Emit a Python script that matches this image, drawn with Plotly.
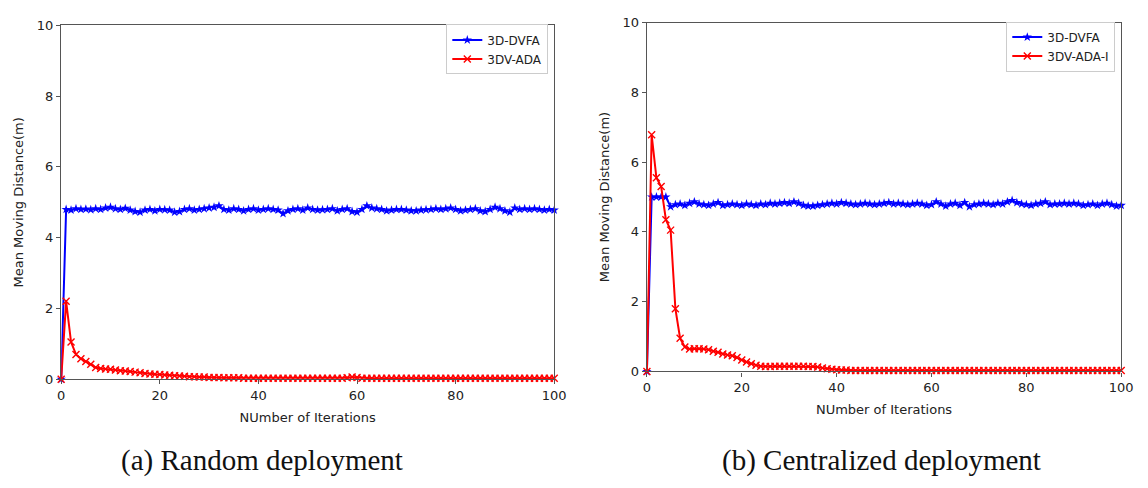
import plotly.graph_objects as go

iterations = list(range(0, 101))

# (a) Random deployment
rand_dvfa = [0.00, 4.80, 4.78, 4.82, 4.80, 4.81, 4.79, 4.82, 4.80, 4.84,
             4.86, 4.82, 4.80, 4.83, 4.78, 4.74, 4.72, 4.78, 4.80, 4.76,
             4.80, 4.79, 4.78, 4.72, 4.74, 4.80, 4.82, 4.78, 4.80, 4.82,
             4.84, 4.86, 4.90, 4.80, 4.78, 4.82, 4.80, 4.76, 4.80, 4.82,
             4.78, 4.80, 4.82, 4.80, 4.78, 4.68, 4.76, 4.80, 4.82, 4.78,
             4.84, 4.80, 4.78, 4.79, 4.80, 4.82, 4.76, 4.80, 4.82, 4.74,
             4.72, 4.80, 4.90, 4.84, 4.82, 4.80, 4.76, 4.78, 4.80, 4.80,
             4.78, 4.76, 4.76, 4.78, 4.79, 4.80, 4.82, 4.80, 4.82, 4.84,
             4.80, 4.76, 4.78, 4.80, 4.82, 4.76, 4.74, 4.80, 4.86, 4.82,
             4.76, 4.72, 4.84, 4.80, 4.82, 4.80, 4.82, 4.80, 4.78, 4.80,
             4.78]
rand_ada = [0.00, 2.20, 1.05, 0.70, 0.58, 0.50, 0.42, 0.33, 0.30, 0.29,
            0.28, 0.26, 0.24, 0.23, 0.22, 0.20, 0.18, 0.16, 0.15, 0.14,
            0.13, 0.12, 0.11, 0.10, 0.09, 0.08, 0.07, 0.07, 0.06, 0.06,
            0.05, 0.05, 0.05, 0.04, 0.04, 0.04, 0.04, 0.03, 0.03, 0.03,
            0.03, 0.03, 0.03, 0.03, 0.03, 0.03, 0.03, 0.03, 0.03, 0.03,
            0.03, 0.03, 0.03, 0.03, 0.03, 0.03, 0.03, 0.03, 0.04, 0.06,
            0.05, 0.03, 0.03, 0.03, 0.03, 0.03, 0.03, 0.03, 0.03, 0.03,
            0.03, 0.03, 0.03, 0.03, 0.03, 0.03, 0.03, 0.03, 0.03, 0.03,
            0.03, 0.03, 0.03, 0.03, 0.03, 0.03, 0.03, 0.03, 0.03, 0.03,
            0.03, 0.03, 0.03, 0.03, 0.03, 0.03, 0.03, 0.03, 0.03, 0.03,
            0.03]

# (b) Centralized deployment
cent_dvfa = [0.00, 5.00, 5.00, 5.00, 5.00, 4.72, 4.78, 4.80, 4.76, 4.82,
             4.86, 4.80, 4.78, 4.76, 4.80, 4.84, 4.76, 4.78, 4.80, 4.78,
             4.76, 4.80, 4.78, 4.76, 4.80, 4.78, 4.82, 4.80, 4.82, 4.84,
             4.82, 4.86, 4.82, 4.76, 4.74, 4.74, 4.76, 4.78, 4.80, 4.82,
             4.80, 4.84, 4.82, 4.80, 4.78, 4.80, 4.82, 4.80, 4.78, 4.80,
             4.82, 4.84, 4.80, 4.82, 4.80, 4.78, 4.80, 4.82, 4.80, 4.76,
             4.78, 4.86, 4.80, 4.74, 4.80, 4.82, 4.76, 4.84, 4.72, 4.78,
             4.80, 4.82, 4.80, 4.78, 4.82, 4.80, 4.86, 4.90, 4.84, 4.80,
             4.78, 4.76, 4.80, 4.82, 4.86, 4.78, 4.80, 4.80, 4.82, 4.80,
             4.82, 4.80, 4.76, 4.78, 4.80, 4.76, 4.80, 4.82, 4.78, 4.74,
             4.76]
cent_ada = [0.00, 6.78, 5.55, 5.30, 4.35, 4.05, 1.80, 0.95, 0.70, 0.64,
            0.65, 0.65, 0.64, 0.62, 0.58, 0.55, 0.50, 0.47, 0.45, 0.40,
            0.33, 0.27, 0.22, 0.18, 0.15, 0.14, 0.14, 0.15, 0.15, 0.15,
            0.15, 0.15, 0.15, 0.15, 0.14, 0.14, 0.13, 0.10, 0.08, 0.06,
            0.05, 0.04, 0.04, 0.03, 0.03, 0.03, 0.03, 0.03, 0.03, 0.03,
            0.03, 0.03, 0.03, 0.03, 0.03, 0.03, 0.03, 0.03, 0.03, 0.03,
            0.03, 0.03, 0.03, 0.03, 0.03, 0.03, 0.03, 0.03, 0.03, 0.03,
            0.03, 0.03, 0.03, 0.03, 0.03, 0.03, 0.03, 0.03, 0.03, 0.03,
            0.03, 0.03, 0.03, 0.03, 0.03, 0.03, 0.03, 0.03, 0.03, 0.03,
            0.03, 0.03, 0.03, 0.03, 0.03, 0.03, 0.03, 0.03, 0.03, 0.03,
            0.03]

x_ticks = [0, 20, 40, 60, 80, 100]
y_ticks = [0, 2, 4, 6, 8, 10]
x_title = "NUmber of Iterations"
y_title = "Mean Moving Distance(m)"
captions = ["(a) Random deployment", "(b) Centralized deployment"]

W, H = 1148, 488
BLUE = "#0000ff"
RED = "#ff0000"
FONT = "DejaVu Sans"
TXT = "#222222"

fig = go.Figure()


def add_pair(xa, ya, leg, y_dvfa, y_ada, name_ada):
    fig.add_trace(go.Scatter(
        x=iterations, y=y_dvfa, mode="lines+markers", name="3D-DVFA",
        xaxis=xa, yaxis=ya, legend=leg, cliponaxis=False,
        line=dict(color=BLUE, width=2),
        marker=dict(symbol="star", size=7, color=BLUE, line=dict(width=0))))
    fig.add_trace(go.Scatter(
        x=iterations, y=y_ada, mode="lines+markers", name=name_ada,
        xaxis=xa, yaxis=ya, legend=leg, cliponaxis=False,
        line=dict(color=RED, width=2),
        marker=dict(symbol="x-thin", size=7, color=RED,
                    line=dict(width=1.4, color=RED))))


add_pair("x", "y", "legend", rand_dvfa, rand_ada, "3DV-ADA")
add_pair("x2", "y2", "legend2", cent_dvfa, cent_ada, "3DV-ADA-I")

axis_common = dict(
    showline=True, mirror=True, linecolor="#555555", linewidth=1.4,
    ticks="outside", ticklen=4, tickwidth=1.2, tickcolor="#555555",
    showgrid=False, zeroline=False,
    tickfont=dict(family=FONT, size=13, color=TXT),
)
title_font = dict(family=FONT, size=13, color=TXT)
legend_common = dict(xanchor="right", yanchor="top",
                     bgcolor="rgba(255,255,255,0.9)", bordercolor="#cccccc", borderwidth=1,
                     font=dict(family=FONT, size=12, color=TXT),
                     itemwidth=30, tracegroupgap=0)

fig.update_layout(
    width=W, height=H,
    margin=dict(l=0, r=0, t=0, b=0),
    paper_bgcolor="white", plot_bgcolor="white",
    showlegend=True,
    xaxis=dict(domain=[58 / W, 558 / W], anchor="y", range=[0, 100],
               tickvals=x_ticks,
               title=dict(text=x_title, font=title_font, standoff=10),
               **axis_common),
    yaxis=dict(domain=[1 - 384 / H, 1 - 19 / H], anchor="x", range=[0, 10],
               tickvals=y_ticks,
               title=dict(text=y_title, font=title_font, standoff=10),
               **axis_common),
    xaxis2=dict(domain=[652 / W, 1133 / W], anchor="y2", range=[0, 100],
                tickvals=x_ticks,
                title=dict(text=x_title, font=title_font, standoff=10),
                **axis_common),
    yaxis2=dict(domain=[1 - 376 / H, 1 - 16 / H], anchor="x2", range=[0, 10],
                tickvals=y_ticks,
                title=dict(text=y_title, font=title_font, standoff=10),
                **axis_common),
    legend=dict(x=552 / W, y=1 - 18 / H, **legend_common),
    legend2=dict(x=1127 / W, y=1 - 15 / H, **legend_common),
)

for i, cx in enumerate([262, 890]):
    fig.add_annotation(text=captions[i], x=cx / W, y=1 - 468 / H, xref="paper", yref="paper",
                       showarrow=False, xanchor="center", yanchor="middle",
                       font=dict(family="Liberation Serif", size=29, color="#111111"))

fig.write_html("out.html")
